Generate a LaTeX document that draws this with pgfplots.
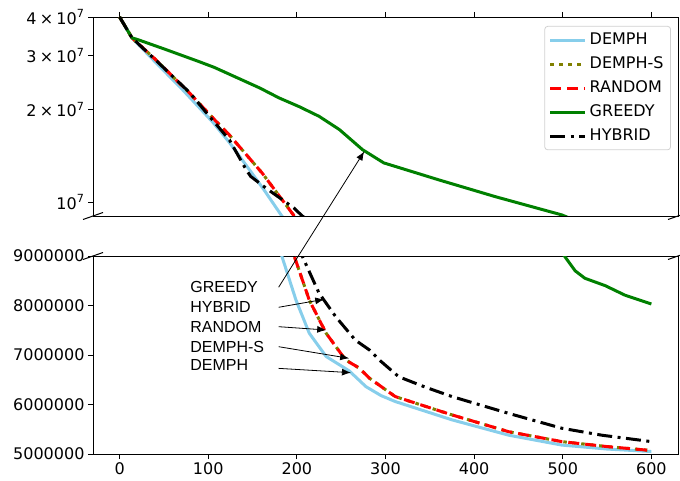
\documentclass[border=0pt]{standalone}
\usepackage{pgfplots}
\pgfplotsset{compat=1.18}
\usepackage{pgfplotstable}
\usepackage{fontspec}
\setmainfont{DejaVu Sans}
\newfontfamily\annfont{Liberation Sans}
\usetikzlibrary{arrows.meta}

\definecolor{cDemph}{HTML}{87CEEB}
\definecolor{cDemphS}{HTML}{808000}
\definecolor{cRandom}{HTML}{FF0000}
\definecolor{cGreedy}{HTML}{008000}
\definecolor{cHybrid}{HTML}{000000}

% objective value against number of iterations
\pgfplotstableread{
x y
0 4.00e7
14 3.42e7
40 2.86e7
71 2.32e7
105 1.82e7
124 1.56e7
145 1.29e7
163 1.094e7
183 9.00e6
199 8.11e6
214 7.44e6
233 6.97e6
259 6.68e6
278 6.36e6
295 6.18e6
311 6.06e6
375 5.69e6
439 5.38e6
499 5.18e6
550 5.10e6
600 5.05e6
}\demph

\pgfplotstableread{
x y
0 4.00e7
14 3.42e7
41 2.90e7
79 2.26e7
105 1.88e7
124 1.65e7
161 1.24e7
197 9.00e6
214 8.11e6
233 7.44e6
255 6.90e6
270 6.74e6
282 6.53e6
311 6.16e6
375 5.79e6
439 5.45e6
499 5.25e6
550 5.15e6
600 5.07e6
}\demphs

\pgfplotstableread{
x y
0 4.00e7
14 3.42e7
41 2.90e7
79 2.26e7
105 1.88e7
124 1.65e7
161 1.24e7
197 9.00e6
214 8.11e6
233 7.44e6
255 6.90e6
270 6.74e6
282 6.53e6
311 6.16e6
375 5.79e6
439 5.45e6
499 5.25e6
550 5.15e6
600 5.07e6
}\random

\pgfplotstableread{
x y
0 4.00e7
14 3.42e7
20 3.38e7
50 3.15e7
90 2.86e7
107 2.74e7
158 2.35e7
180 2.18e7
203 2.04e7
225 1.90e7
248 1.72e7
274 1.48e7
298 1.34e7
360 1.18e7
424 1.04e7
499 9.07e6
514 8.70e6
525 8.55e6
548 8.40e6
570 8.21e6
600 8.03e6
}\greedy

\pgfplotstableread{
x y
0 4.00e7
14 3.42e7
41 2.89e7
79 2.27e7
98 1.95e7
124 1.59e7
143 1.27e7
148 1.21e7
165 1.11e7
197 9.54e6
206 9.00e6
225 8.25e6
244 7.77e6
266 7.30e6
282 7.10e6
293 6.90e6
315 6.56e6
345 6.35e6
375 6.16e6
439 5.82e6
499 5.52e6
544 5.38e6
600 5.25e6
}\hybrid

\pgfplotsset{
  panel/.style={
    scale only axis, width=585pt,
    xmin=-30, xmax=630,
    xtick={0,100,200,300,400,500,600},
    axis line style={black, line width=0.8pt},
    tick style={black, line width=0.8pt},
    major tick length=5pt, minor tick length=3pt,
    tick align=outside, ytick pos=left,
    scaled y ticks=false, scaled x ticks=false,
    tick label style={font=\fontsize{16}{19}\selectfont},
    /pgf/number format/assume math mode=true,
    every axis plot/.append style={line width=3pt, line join=round},
  },
  sDemph/.style={color=cDemph, solid},
  sDemphS/.style={color=cDemphS, dash pattern=on 3.5pt off 5.5pt},
  sRandom/.style={color=cRandom, dash pattern=on 11pt off 6pt},
  sGreedy/.style={color=cGreedy, solid},
  sHybrid/.style={color=cHybrid, dash pattern=on 15pt off 5.5pt on 3pt off 5.5pt},
}

\begin{document}
\begin{tikzpicture}
\useasboundingbox (0,0) rectangle (680pt,-481pt);

% upper panel, logarithmic
\begin{axis}[panel, name=top,
  at={(93pt,-17pt)}, anchor=north west, height=199pt,
  ymode=log, ymin=9e6, ymax=4e7,
  ytick={1e7,2e7,3e7,4e7},
  yticklabels={10\textsuperscript{7},
               2\hspace{0.2em}×\hspace{0.2em}10\textsuperscript{7},
               3\hspace{0.2em}×\hspace{0.2em}10\textsuperscript{7},
               4\hspace{0.2em}×\hspace{0.2em}10\textsuperscript{7}},
  minor ytick={},
  xtick pos=right, xticklabels={},
  legend cell align=left,
  legend image code/.code={\draw[#1] (0pt,0pt) -- (35pt,0pt);},
  legend style={at={(0.988,0.955)}, anchor=north east,
    draw=black!18, line width=0.8pt, rounded corners=3pt,
    fill=white, font=\fontsize{16}{19}\selectfont,
    row sep=2.5pt, inner xsep=4pt, inner ysep=3pt,
    nodes={inner sep=3pt, text height=12pt, text depth=3.5pt},
    /tikz/every even column/.append style={column sep=8pt}},
]
\addplot[sDemph]  table {\demph};  \addlegendentry{DEMPH}
\addplot[sDemphS] table {\demphs}; \addlegendentry{DEMPH-S}
\addplot[sRandom] table {\random}; \addlegendentry{RANDOM}
\addplot[sGreedy] table {\greedy}; \addlegendentry{GREEDY}
\addplot[sHybrid] table {\hybrid}; \addlegendentry{HYBRID}
\coordinate (gtip) at (axis cs:276,1.46e7);
\end{axis}

% lower panel, linear
\begin{axis}[panel, name=bot,
  at={(93pt,-256pt)}, anchor=north west, height=198pt,
  ymin=5e6, ymax=9e6,
  ytick={5000000,6000000,7000000,8000000,9000000},
  yticklabels={5000000,6000000,7000000,8000000,9000000},
  xtick pos=left,
  xticklabels={0,100,200,300,400,500,600},
]
\addplot[sDemph]  table {\demph};
\addplot[sDemphS] table {\demphs};
\addplot[sRandom] table {\random};
\addplot[sGreedy] table {\greedy};
\addplot[sHybrid] table {\hybrid};

\coordinate (gsrc) at (axis cs:179.4,8.368e6);
\coordinate (hsrc) at (axis cs:179.4,7.964e6);
\coordinate (rsrc) at (axis cs:179.4,7.572e6);
\coordinate (ssrc) at (axis cs:179.4,7.168e6);
\coordinate (dsrc) at (axis cs:179.4,6.730e6);
\coordinate (htip) at (axis cs:230.9,8.125e6);
\coordinate (rtip) at (axis cs:233.1,7.505e6);
\coordinate (stip) at (axis cs:259.0,6.933e6);
\coordinate (dtip) at (axis cs:261.0,6.643e6);

\begin{scope}[every node/.style={anchor=west, inner sep=0pt,
    font=\annfont\fontsize{16}{19}\selectfont}]
\node at (axis cs:79.6,8.368e6) {GREEDY};
\node at (axis cs:79.6,7.964e6) {HYBRID};
\node at (axis cs:79.6,7.572e6) {RANDOM};
\node at (axis cs:79.6,7.168e6) {DEMPH-S};
\node at (axis cs:79.6,6.798e6) {DEMPH};
\end{scope}
\end{axis}

% annotation arrows
\begin{scope}[line width=0.8pt, -{Latex[length=9pt,width=7pt]}]
\draw (gsrc) -- (gtip);
\draw (hsrc) -- (htip);
\draw (rsrc) -- (rtip);
\draw (ssrc) -- (stip);
\draw (dsrc) -- (dtip);
\end{scope}

% break marks between the panels
\begin{scope}[line width=1pt]
\draw ([shift={(-10pt,-3.5pt)}]top.south west) -- ++(20pt,7pt);
\draw ([shift={(-10pt,-3.5pt)}]top.south east) -- ++(20pt,7pt);
\draw ([shift={(-10pt,-3.5pt)}]bot.north west) -- ++(20pt,7pt);
\draw ([shift={(-10pt,-3.5pt)}]bot.north east) -- ++(20pt,7pt);
\end{scope}
\end{tikzpicture}
\end{document}
